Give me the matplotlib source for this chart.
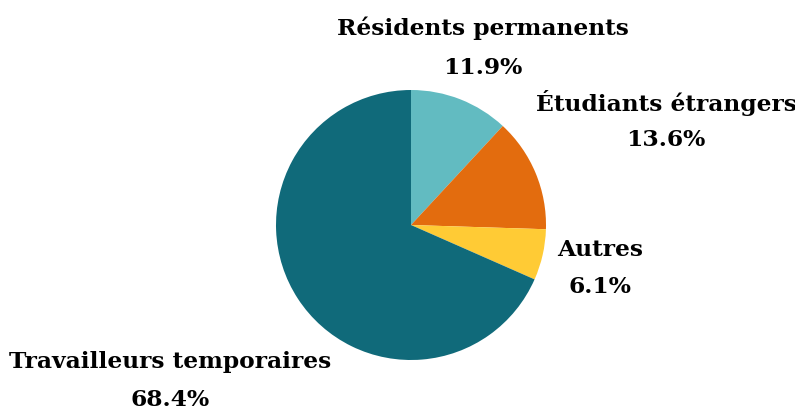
import matplotlib
matplotlib.use("Agg")
import matplotlib.pyplot as plt

categories = ["Résidents permanents", "Étudiants étrangers", "Autres", "Travailleurs temporaires"]
values = [11.9, 13.6, 6.1, 68.4]
colors = ["#62BBC1", "#E36C0E", "#FFCB35", "#106A7A"]

W, H = 795, 412
fig = plt.figure(figsize=(W/100, H/100), dpi=100)
ax = fig.add_axes([0, 0, 1, 1])
ax.set_xlim(0, W)
ax.set_ylim(0, H)
ax.set_aspect("equal")
ax.axis("off")

cx, cy, r = 411, H - 225, 135
ax.pie(values, colors=colors, startangle=90, counterclock=False,
       center=(cx, cy), radius=r, wedgeprops=dict(linewidth=0))
ax.set_xlim(0, W)
ax.set_ylim(0, H)

label_pos = [(483, 28, 68), (666, 103, 140), (600, 250, 287), (170, 362, 400)]
font = dict(family="DejaVu Serif", fontweight="bold", fontsize=16.8, color="#000000",
            ha="center", va="center")
for cat, v, (x, y1, y2) in zip(categories, values, label_pos):
    ax.text(x, H - y1, cat, **font)
    ax.text(x, H - y2, f"{v:.1f}%", **font)

fig.savefig("out.png", dpi=100)
